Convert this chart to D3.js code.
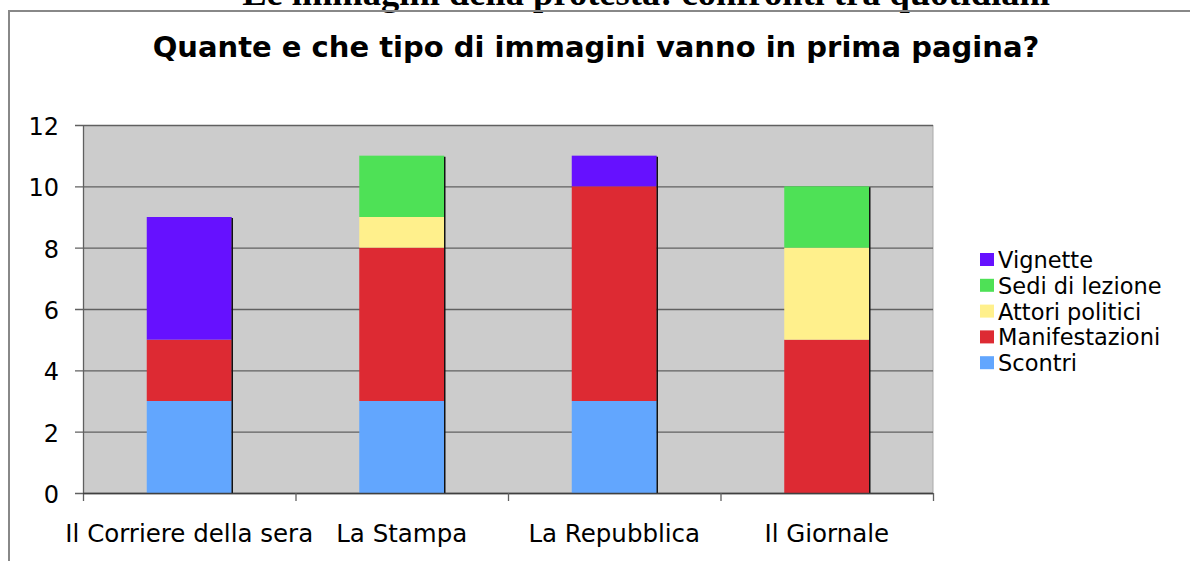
<!DOCTYPE html>
<html>
<head>
<meta charset="utf-8">
<script src="https://cdn.jsdelivr.net/npm/d3@7"></script>
<style>
  body { margin: 0; background: #fff; }
  svg { display: block; }
</style>
</head>
<body>
<div id="chart"></div>
<script>
// data
const categories = ["Il Corriere della sera", "La Stampa", "La Repubblica", "Il Giornale"];
const seriesNames = ["Scontri", "Manifestazioni", "Attori politici", "Sedi di lezione", "Vignette"];
const scontri = [3, 3, 3, 0];
const manifestazioni = [2, 5, 7, 5];
const attoriPolitici = [0, 1, 0, 3];
const sediDiLezione = [0, 2, 0, 2];
const vignette = [4, 0, 1, 0];
const yTicks = [0, 2, 4, 6, 8, 10, 12];

const colors = ["#62a6fe", "#dd2a33", "#fff08c", "#4ee156", "#6611ff"];

const width = 1190, height = 561;
const plot = { left: 83, right: 933, top: 125, bottom: 493 };

const svg = d3.select("#chart")
  .append("svg")
  .attr("width", width)
  .attr("height", height);

// the page title, cut by the top edge
svg.append("text")
  .text("Le immagini della protesta: confronti tra quotidiani")
  .attr("x", 646)
  .attr("y", 5)
  .attr("text-anchor", "middle")
  .style("font-family", "'Liberation Serif', serif")
  .style("font-weight", "bold")
  .style("font-size", "36.5px");

// frame
svg.append("path")
  .attr("d", `M 9 ${height} L 9 11 L ${width} 11`)
  .attr("fill", "none")
  .attr("stroke", "#888")
  .attr("stroke-width", 2);

svg.append("text")
  .text("Quante e che tipo di immagini vanno in prima pagina?")
  .attr("x", 596)
  .attr("y", 57)
  .attr("text-anchor", "middle")
  .style("font-family", "'DejaVu Sans', sans-serif")
  .style("font-weight", "bold")
  .style("font-size", "29px");

const x = d3.scaleBand()
  .domain(categories)
  .range([plot.left, plot.right])
  .paddingInner(0.6)
  .paddingOuter(0.3);

const xb = d3.scaleBand()
  .domain(categories)
  .range([plot.left, plot.right]);

const y = d3.scaleLinear()
  .domain([0, 12])
  .range([plot.bottom, plot.top]);

// plot background
svg.append("rect")
  .attr("x", plot.left)
  .attr("y", plot.top)
  .attr("width", plot.right - plot.left)
  .attr("height", plot.bottom - plot.top)
  .attr("fill", "#cccccc");

svg.append("line")
  .attr("x1", plot.right).attr("x2", plot.right)
  .attr("y1", plot.top).attr("y2", plot.bottom)
  .attr("stroke", "#aaa");

// gridlines
svg.append("g")
  .selectAll("line")
  .data(yTicks)
  .enter()
  .append("line")
  .attr("x1", plot.left - 8)
  .attr("x2", plot.right)
  .attr("y1", d => y(d) + 0.5)
  .attr("y2", d => y(d) + 0.5)
  .attr("stroke", "#606060")
  .attr("stroke-width", 1.3);

// stacked bars
const table = categories.map((c, i) => ({
  cat: c,
  "Scontri": scontri[i],
  "Manifestazioni": manifestazioni[i],
  "Attori politici": attoriPolitici[i],
  "Sedi di lezione": sediDiLezione[i],
  "Vignette": vignette[i]
}));
const stack = d3.stack().keys(seriesNames)(table);

const layers = svg.append("g")
  .selectAll("g")
  .data(stack)
  .enter()
  .append("g")
  .attr("fill", (d, i) => colors[i]);

layers.selectAll("rect")
  .data(d => d.filter(p => p[1] > p[0]))
  .enter()
  .append("rect")
  .attr("x", d => x(d.data.cat))
  .attr("width", x.bandwidth())
  .attr("y", d => y(d[1]))
  .attr("height", d => y(d[0]) - y(d[1]));

// dark shadow edge on the right of each bar
const totals = categories.map((c, i) => scontri[i] + manifestazioni[i] + attoriPolitici[i] + sediDiLezione[i] + vignette[i]);
svg.append("g")
  .selectAll("line")
  .data(categories)
  .enter()
  .append("line")
  .attr("x1", d => x(d) + x.bandwidth() + 0.5)
  .attr("x2", d => x(d) + x.bandwidth() + 0.5)
  .attr("y1", (d, i) => y(totals[i]) + 1)
  .attr("y2", plot.bottom)
  .attr("stroke", "#111")
  .attr("stroke-width", 1.5);

// axes lines
svg.append("line")
  .attr("x1", plot.left + 0.5).attr("x2", plot.left + 0.5)
  .attr("y1", plot.top).attr("y2", plot.bottom + 8)
  .attr("stroke", "#606060")
  .attr("stroke-width", 1.3);

svg.append("line")
  .attr("x1", plot.left).attr("x2", plot.right)
  .attr("y1", plot.bottom + 0.5).attr("y2", plot.bottom + 0.5)
  .attr("stroke", "#404040")
  .attr("stroke-width", 1.5);

// category ticks
svg.append("g")
  .selectAll("line")
  .data(categories.slice(1).concat(["end"]))
  .enter()
  .append("line")
  .attr("x1", (d, i) => (i < 3 ? xb(d) : plot.right) + 0.5)
  .attr("x2", (d, i) => (i < 3 ? xb(d) : plot.right) + 0.5)
  .attr("y1", plot.bottom)
  .attr("y2", plot.bottom + 8)
  .attr("stroke", "#606060")
  .attr("stroke-width", 1.3);

// y labels
svg.append("g")
  .selectAll("text")
  .data(yTicks)
  .enter()
  .append("text")
  .text(d => d)
  .attr("x", 59)
  .attr("y", d => y(d) + 10)
  .attr("text-anchor", "end")
  .style("font-family", "'DejaVu Sans', sans-serif")
  .style("font-size", "24px");

// x labels
svg.append("g")
  .selectAll("text")
  .data(categories)
  .enter()
  .append("text")
  .text(d => d)
  .attr("x", d => xb(d) + xb.bandwidth() / 2)
  .attr("y", 542)
  .attr("text-anchor", "middle")
  .style("font-family", "'DejaVu Sans', sans-serif")
  .style("font-size", "24.5px");

// legend, top to bottom reversed order
const legendOrder = seriesNames.map((n, i) => ({ name: n, color: colors[i] })).reverse();
const legend = svg.append("g")
  .selectAll("g")
  .data(legendOrder)
  .enter()
  .append("g")
  .attr("transform", (d, i) => "translate(980," + (260 + i * 25.8) + ")");

legend.append("rect")
  .attr("x", 0)
  .attr("y", -7)
  .attr("width", 14)
  .attr("height", 13)
  .attr("fill", d => d.color);

legend.append("text")
  .text(d => d.name)
  .attr("x", 18)
  .attr("y", 8)
  .style("font-family", "'DejaVu Sans', sans-serif")
  .style("font-size", "22.5px");
</script>
</body>
</html>
